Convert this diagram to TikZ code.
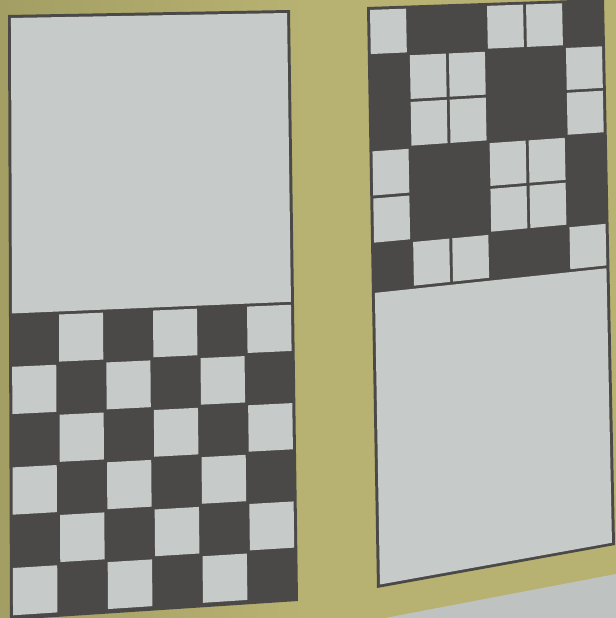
\documentclass[tikz,border=0pt]{standalone}
\usetikzlibrary{calc}
\definecolor{khaki}{HTML}{B8B272}
\definecolor{khakidark}{HTML}{A39E63}
\definecolor{paper}{HTML}{C6CAC9}
\definecolor{ink}{HTML}{4A4947}
\definecolor{strip}{HTML}{BEC2C0}
% bilinear point inside panel #1 at (u,v)
\newcommand\blp[3]{($ ($(#1TL)!#2!(#1TR)$)!#3!($(#1BL)!#2!(#1BR)$) $)}
\newcommand\qfill[6]{\fill[#6] \blp{#1}{#2}{#3} -- \blp{#1}{#4}{#3} -- \blp{#1}{#4}{#5} -- \blp{#1}{#2}{#5} -- cycle;}
\begin{document}
\begin{tikzpicture}[x=0.01cm,y=-0.01cm,
  lightcell/.style={fill=paper},
  darkcell/.style={fill=ink}]
\useasboundingbox (0,0) rectangle (616,618);
\shade[left color=khakidark, right color=khaki, middle color=khaki] (0,0) rectangle (616,618);
\fill[strip] (385,618) -- (616,574) -- (616,618) -- cycle;
\begin{scope}
\clip (0,0) rectangle (616,618);
% ---------- left panel ----------
\coordinate (LTL) at (8,15);
\coordinate (LTR) at (290,10);
\coordinate (LBR) at (298,601);
\coordinate (LBL) at (10,620);
\qfill{L}{0}{0}{1}{1}{darkcell}
\qfill{L}{0.0105}{0.005}{0.9895}{0.4935}{lightcell}
\foreach \i in {0,...,5}{
  \foreach \j in {0,...,5}{
    \pgfmathtruncatemacro\parity{mod(\i+\j,2)}
    \ifnum\parity=1
      \pgfmathsetmacro\ua{0.0053+\i*0.16490+0.0053}
      \pgfmathsetmacro\ub{0.0053+(\i+1)*0.16490-0.0053}
      \pgfmathsetmacro\va{0.4960+\j*0.08317+0.0025}
      \pgfmathsetmacro\vb{0.4960+(\j+1)*0.08317-0.0025}
      \qfill{L}{\ua}{\va}{\ub}{\vb}{lightcell}
    \fi
  }
}
% ---------- right panel ----------
\coordinate (RTL) at (367,7);
\coordinate (RTR) at (604,-1);
\coordinate (RBR) at (615,545);
\coordinate (RBL) at (377,588);
\qfill{R}{0}{0}{1}{1}{darkcell}
\qfill{R}{0.0125}{0.4926}{0.9875}{0.9949}{lightcell}
\foreach \j/\row in {0/{1,0,0,1,1,0},1/{0,1,1,0,0,1},2/{0,1,1,0,0,1},3/{1,0,0,1,1,0},4/{1,0,0,1,1,0},5/{0,1,1,0,0,1}}{
  \foreach \c [count=\k from 0] in \row {
    \ifnum\c=1
      \pgfmathsetmacro\ua{0.00625+\k*0.16458+0.00625}
      \pgfmathsetmacro\ub{0.00625+(\k+1)*0.16458-0.00625}
      \pgfmathsetmacro\va{0.0026+\j*0.08123+0.0026}
      \pgfmathsetmacro\vb{0.0026+(\j+1)*0.08123-0.0026}
      \qfill{R}{\ua}{\va}{\ub}{\vb}{lightcell}
    \fi
  }
}
\end{scope}
\end{tikzpicture}
\end{document}
